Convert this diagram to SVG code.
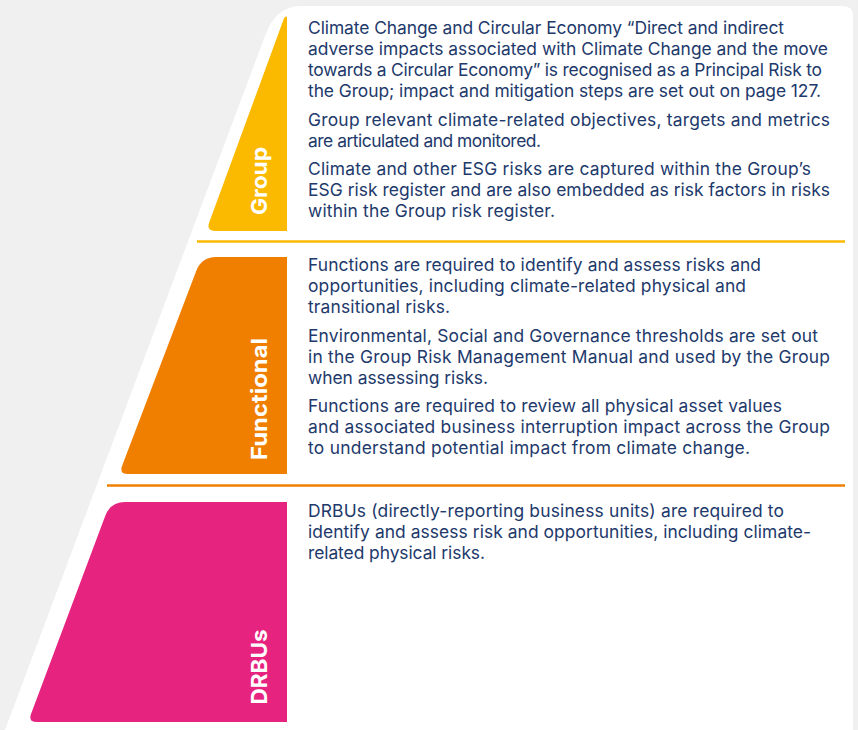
<svg xmlns="http://www.w3.org/2000/svg" width="858" height="730" viewBox="0 0 858 730">
  <style>
    .body { font-family: Inter, "Liberation Sans", sans-serif; font-size: 17.4px; fill: #22396b; }
    .label { font-family: Inter, "Liberation Sans", sans-serif; font-size: 22px; font-weight: bold; fill: #ffffff; text-anchor: middle; }
    .divider { stroke-width: 2.5; fill: none; }
  </style>
  <rect x="0" y="0" width="858" height="730" fill="#f0f0f1"/>
  <path d="M 5,730 L 265,36 Q 276,6 300,6 L 843,6 Q 853,6 853,16 L 853,730 Z" fill="#ffffff"/>

  <g id="node-group">
    <path d="M 287,17 L 287,231 L 216,231 Q 206,231 209.2,222.6 L 283,21 Q 285,15 287,17 Z" fill="#fbb900"/>
    <text class="label" transform="translate(267,181) rotate(-90)" textLength="68" lengthAdjust="spacingAndGlyphs">Group</text>
    <text class="body" x="308" y="34.3" textLength="476" lengthAdjust="spacing">Climate Change and Circular Economy “Direct and indirect</text>
    <text class="body" x="308" y="55.3" textLength="520" lengthAdjust="spacing">adverse impacts associated with Climate Change and the move</text>
    <text class="body" x="308" y="76.3" textLength="514" lengthAdjust="spacing">towards a Circular Economy” is recognised as a Principal Risk to</text>
    <text class="body" x="308" y="97.3" textLength="513" lengthAdjust="spacing">the Group; impact and mitigation steps are set out on page 127.</text>
    <text class="body" x="308" y="126" textLength="522" lengthAdjust="spacing">Group relevant climate-related objectives, targets and metrics</text>
    <text class="body" x="308" y="147" textLength="233" lengthAdjust="spacing">are articulated and monitored.</text>
    <text class="body" x="308" y="175" textLength="503" lengthAdjust="spacing">Climate and other ESG risks are captured within the Group’s</text>
    <text class="body" x="308" y="196" textLength="522" lengthAdjust="spacing">ESG risk register and are also embedded as risk factors in risks</text>
    <text class="body" x="308" y="217" textLength="247" lengthAdjust="spacing">within the Group risk register.</text>
  </g>

  <g id="node-functional">
    <path d="M 287,257 L 287,474 L 128,474 Q 119,474 122.2,465.6 L 196.2,271 Q 201.5,257 216,257 Z" fill="#f07f00"/>
    <text class="label" transform="translate(267,399) rotate(-90)" textLength="122" lengthAdjust="spacingAndGlyphs">Functional</text>
    <text class="body" x="308" y="270.7" textLength="453" lengthAdjust="spacing">Functions are required to identify and assess risks and</text>
    <text class="body" x="308" y="291.7" textLength="438" lengthAdjust="spacing">opportunities, including climate-related physical and</text>
    <text class="body" x="308" y="312.7" textLength="142" lengthAdjust="spacing">transitional risks.</text>
    <text class="body" x="308" y="341.7" textLength="510" lengthAdjust="spacing">Environmental, Social and Governance thresholds are set out</text>
    <text class="body" x="308" y="362.7" textLength="522" lengthAdjust="spacing">in the Group Risk Management Manual and used by the Group</text>
    <text class="body" x="308" y="383.7" textLength="180" lengthAdjust="spacing">when assessing risks.</text>
    <text class="body" x="308" y="411.7" textLength="474" lengthAdjust="spacing">Functions are required to review all physical asset values</text>
    <text class="body" x="308" y="432.7" textLength="522" lengthAdjust="spacing">and associated business interruption impact across the Group</text>
    <text class="body" x="308" y="453.7" textLength="442" lengthAdjust="spacing">to understand potential impact from climate change.</text>
  </g>

  <g id="node-drbus">
    <path d="M 287,502 L 287,722 L 37,722 Q 28,722 31.2,713.6 L 105.2,516 Q 110.5,502 125,502 Z" fill="#e6247f"/>
    <text class="label" transform="translate(267,667) rotate(-90)" textLength="75" lengthAdjust="spacingAndGlyphs">DRBUs</text>
    <text class="body" x="308" y="517.3" textLength="476" lengthAdjust="spacing">DRBUs (directly-reporting business units) are required to</text>
    <text class="body" x="308" y="538.3" textLength="503" lengthAdjust="spacing">identify and assess risk and opportunities, including climate-</text>
    <text class="body" x="308" y="559.3" textLength="177" lengthAdjust="spacing">related physical risks.</text>
  </g>

  <g id="connectors">
    <line class="divider" x1="197" y1="241.5" x2="845" y2="241.5" stroke="#fbb900"/>
    <line class="divider" x1="107" y1="485.5" x2="845" y2="485.5" stroke="#f07f00"/>
  </g>
</svg>
